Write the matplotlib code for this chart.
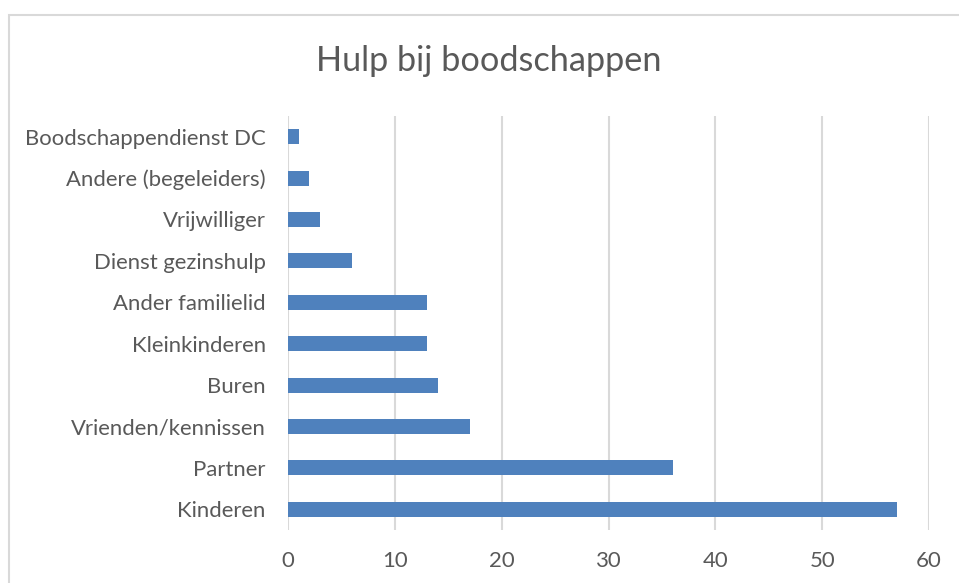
import matplotlib
matplotlib.use("Agg")
import matplotlib.pyplot as plt
from matplotlib.patches import Rectangle

categories = ["Kinderen", "Partner", "Vrienden/kennissen", "Buren", "Kleinkinderen",
              "Ander familielid", "Dienst gezinshulp", "Vrijwilliger",
              "Andere (begeleiders)", "Boodschappendienst DC"]
values = [57, 36, 17, 14, 13, 13, 6, 3, 2, 1]
xticks = [0, 10, 20, 30, 40, 50, 60]
title = "Hulp bij boodschappen"

plt.rcParams['font.family'] = ['Lato', 'DejaVu Sans']
W, H = 959, 583
fig = plt.figure(figsize=(W / 100, H / 100), dpi=100)
fig.patches.append(Rectangle((9 / W, -0.1), 1.1, 1 - 15 / H + 0.1, transform=fig.transFigure,
                             fill=False, edgecolor="#d9d9d9", linewidth=1.5, zorder=0))

ax = fig.add_axes([288 / W, 53 / H, (929 - 288) / W, (530 - 116) / H])
y = list(range(len(categories)))
ax.barh(y, values, height=0.36, color="#4f81bd", zorder=3)
ax.set_xlim(0, 60)
ax.set_ylim(-0.5, len(categories) - 0.5)
ax.set_xticks(xticks)
ax.set_yticks(y)
ax.set_yticklabels(categories)
ax.grid(axis="x", color="#d9d9d9", linewidth=1.5, zorder=0)
for s in ax.spines.values():
    s.set_visible(False)
ax.tick_params(axis="both", length=0, colors="#595959", labelsize=15.9)
ax.tick_params(axis="x", pad=15)
ax.tick_params(axis="y", pad=16)
fig.text((318 + 660) / 2 / W, 1 - 61 / H, title, ha="center", va="center",
         fontsize=24.7, color="#595959")
fig.savefig("out.png", dpi=100)
